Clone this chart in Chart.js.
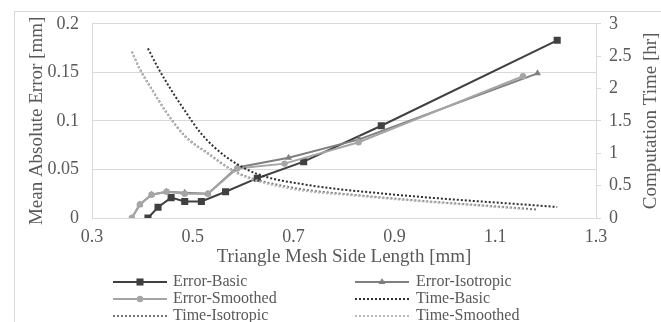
<!DOCTYPE html>
<html><head><meta charset="utf-8">
<script src="https://cdn.jsdelivr.net/npm/chart.js@4/dist/chart.umd.min.js"></script>
<style>html,body{margin:0;padding:0;background:#fff;overflow:hidden}
#wrap{position:relative;width:661px;height:322px}
</style></head><body><div id="wrap"><canvas id="c" width="661" height="322"></canvas></div>
<script>
// ---- data ----
const xBasic = [0.411,0.431,0.457,0.484,0.517,0.565,0.628,0.720,0.874,1.223];
const errorBasic = [0,0.011,0.021,0.017,0.017,0.027,0.041,0.058,0.095,0.183];
const timeBasic = [2.62,2.32,1.98,1.66,1.30,0.95,0.68,0.52,0.38,0.17];

const xIsotropic = [0.379,0.395,0.418,0.448,0.484,0.530,0.588,0.690,0.830,1.184];
const errorIsotropic = [0,0.014,0.024,0.027,0.026,0.025,0.052,0.062,0.081,0.149];
const timeIsotropic = [2.57,2.30,2.00,1.63,1.27,1.00,0.70,0.48,0.35,0.13];

const xSmoothed = [0.379,0.395,0.418,0.448,0.484,0.530,0.588,0.682,0.829,1.155];
const errorSmoothed = [0,0.014,0.024,0.027,0.025,0.025,0.051,0.056,0.078,0.146];
const timeSmoothed = [2.57,2.29,1.99,1.62,1.26,0.99,0.69,0.47,0.34,0.14];

const seriesLabels = ['Error-Basic','Error-Isotropic','Error-Smoothed','Time-Basic','Time-Isotropic','Time-Smoothed'];
const xTickValues = [0.3,0.5,0.7,0.9,1.1,1.3];
const yTickValues = [0,0.05,0.1,0.15,0.2];
const y2TickValues = [0,0.5,1,1.5,2,2.5,3];
const xTitle = 'Triangle Mesh Side Length [mm]';
const yTitle = 'Mean Absolute Error [mm]';
const y2Title = 'Computation Time [hr]';

const pts = (xs, ys) => xs.map((x,i)=>({x, y: ys[i]}));
const FONT = "'Liberation Serif','Times New Roman',serif";
const TXT = '#595959';

const errBase = {borderWidth:2, tension:0, yAxisID:'y', pointBorderWidth:0};
const timeBase = {borderWidth:2, borderDash:[2,2], yAxisID:'y2', pointRadius:0, cubicInterpolationMode:'monotone', borderCapStyle:'butt'};

const datasets = [
  Object.assign({label:seriesLabels[0], data:pts(xBasic,errorBasic), borderColor:'#404040', backgroundColor:'#404040', pointStyle:'rect', pointRadius:5, order:6}, errBase),
  Object.assign({label:seriesLabels[1], data:pts(xIsotropic,errorIsotropic), borderColor:'#7f7f7f', backgroundColor:'#7f7f7f', pointStyle:'triangle', pointRadius:4, order:5}, errBase),
  Object.assign({label:seriesLabels[2], data:pts(xSmoothed,errorSmoothed), borderColor:'#a5a5a5', backgroundColor:'#a5a5a5', pointStyle:'circle', pointRadius:3.2, order:4}, errBase),
  Object.assign({label:seriesLabels[3], data:pts(xBasic,timeBasic), borderColor:'#303030', order:3}, timeBase),
  Object.assign({label:seriesLabels[4], data:pts(xIsotropic,timeIsotropic), borderColor:'#777777', order:2}, timeBase),
  Object.assign({label:seriesLabels[5], data:pts(xSmoothed,timeSmoothed), borderColor:'#b8b8b8', order:1}, timeBase),
];

const extras = {
  id:'extras',
  beforeDraw(chart){
    const ctx = chart.ctx;
    ctx.save();
    ctx.fillStyle = '#fff';
    ctx.fillRect(0,0,chart.width,chart.height);
    ctx.strokeStyle = '#d9d9d9';
    ctx.lineWidth = 1;
    ctx.strokeRect(14.5, 11.5, 700, 400);
    ctx.restore();
  },
  afterDraw(chart){
    const ctx = chart.ctx;
    const ca = chart.chartArea;
    ctx.save();
    // right axis title (reads bottom-to-top)
    ctx.fillStyle = TXT;
    ctx.font = "19px " + FONT;
    ctx.textAlign = 'center';
    ctx.textBaseline = 'middle';
    ctx.translate(651, (ca.top + ca.bottom)/2);
    ctx.rotate(-Math.PI/2);
    ctx.fillText(y2Title, 0, 0);
    ctx.restore();

    // legend
    const cols = [{lx:113, tx:173},{lx:355, tx:416}];
    const rows = [282, 299, 316];
    ctx.save();
    ctx.font = "16px " + FONT;
    ctx.textBaseline = 'middle';
    ctx.textAlign = 'left';
    chart.data.datasets.forEach((ds,i)=>{
      const c = cols[i%2], y = rows[Math.floor(i/2)];
      ctx.save();
      ctx.strokeStyle = ds.borderColor;
      ctx.lineWidth = ds.borderWidth;
      ctx.setLineDash(ds.borderDash || []);
      ctx.beginPath();
      ctx.moveTo(c.lx, y); ctx.lineTo(c.lx+54, y);
      ctx.stroke();
      ctx.setLineDash([]);
      if (ds.pointRadius) {
        ctx.fillStyle = ds.backgroundColor;
        ctx.strokeStyle = ds.borderColor;
        ctx.lineWidth = 0.01;
        Chart.helpers.drawPoint(ctx, {pointStyle: ds.pointStyle, radius: ds.pointRadius, rotation:0, borderWidth:0}, c.lx+27, y);
      }
      ctx.restore();
      ctx.fillStyle = TXT;
      ctx.fillText(ds.label, c.tx, y);
    });
    ctx.restore();
  }
};

new Chart(document.getElementById('c'), {
  type:'line',
  data:{datasets},
  options:{
    responsive:false,
    animation:false,
    devicePixelRatio:1,
    layout:{padding:{top:20, bottom:54, left:0, right:0}},
    plugins:{legend:{display:false}, tooltip:{enabled:false}},
    scales:{
      x:{
        type:'linear', min:0.3, max:1.3,
        afterBuildTicks(s){ s.ticks = xTickValues.map(v=>({value:v})); },
        afterFit(s){ s.height = 50; },
        grid:{display:false, drawTicks:false},
        border:{display:true, color:'#d9d9d9'},
        ticks:{color:TXT, font:{family:FONT, size:18}, padding:8, maxRotation:0, callback:v=>v.toFixed(1)},
        title:{display:true, text:xTitle, color:TXT, font:{family:FONT, size:19}, padding:{top:0,bottom:0}}
      },
      y:{
        type:'linear', position:'left', min:0, max:0.2,
        afterBuildTicks(s){ s.ticks = yTickValues.map(v=>({value:v})); },
        afterFit(s){ s.width = 92; },
        grid:{color:'#d9d9d9', drawTicks:false, lineWidth:1},
        border:{display:true, color:'#d9d9d9'},
        ticks:{color:TXT, font:{family:FONT, size:18}, padding:13, callback:v=>String(v)},
        title:{display:true, text:yTitle, color:TXT, font:{family:FONT, size:19}, padding:{top:26,bottom:0}}
      },
      y2:{
        type:'linear', position:'right', min:0, max:3,
        afterBuildTicks(s){ s.ticks = y2TickValues.map(v=>({value:v})); },
        afterFit(s){ s.width = 65; },
        grid:{drawOnChartArea:false, color:'#d9d9d9', drawTicks:true, tickLength:5},
        border:{display:true, color:'#d9d9d9'},
        ticks:{color:TXT, font:{family:FONT, size:18}, padding:8, callback:v=>String(v)},
        title:{display:false}
      }
    }
  },
  plugins:[extras]
});
</script></body></html>
